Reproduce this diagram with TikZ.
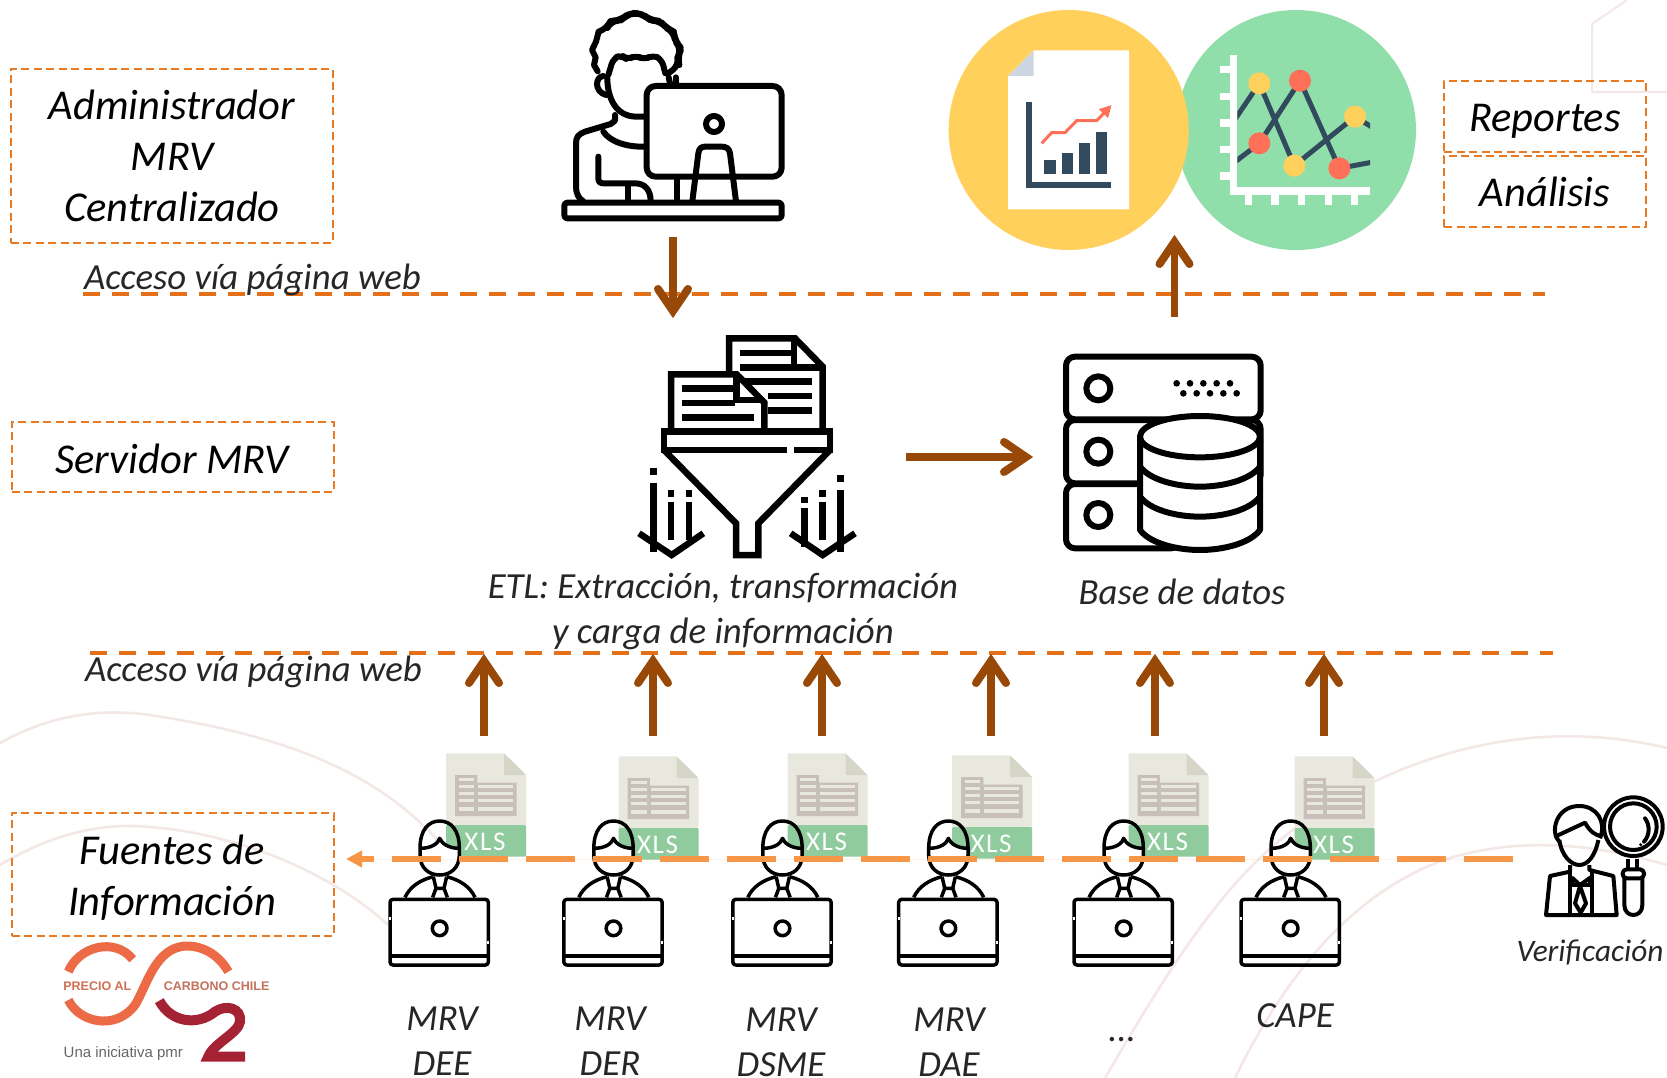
\documentclass[tikz,border=0pt]{standalone}
\usepackage{fontspec}
\setmainfont{Carlito}
\newfontfamily\logofont{Liberation Sans}
\usetikzlibrary{arrows.meta}
\definecolor{boxor}{HTML}{E97A22}
\definecolor{lineor}{HTML}{E4711A}
\definecolor{thickor}{HTML}{F79646}
\definecolor{brownarr}{HTML}{984807}
\definecolor{navy}{HTML}{324A5E}
\definecolor{ylw}{HTML}{FFD05B}
\definecolor{grn}{HTML}{90DFAA}
\definecolor{redd}{HTML}{FF7058}
\definecolor{faint}{HTML}{F3E8E5}
\definecolor{foldg}{HTML}{CDD6E0}
\definecolor{xlsbg}{HTML}{E8E8DF}
\definecolor{xlsfold}{HTML}{D5D5C8}
\definecolor{xlsgrid}{HTML}{C9BFBA}
\definecolor{xlsgrn}{HTML}{8FCB9C}
\definecolor{logoor}{HTML}{EC6A45}
\definecolor{logored}{HTML}{A52234}
\tikzset{
  dbox/.style={draw=boxor,line width=1.8pt,dash pattern=on 8pt off 4.5pt},
  bigtxt/.style={font=\fontsize{42.5}{51}\selectfont\itshape,align=center,text=black,inner sep=0pt},
  midtxt/.style={font=\fontsize{36.8}{45}\selectfont\itshape,align=center,text=black!85,inner sep=0pt},
  sep/.style={draw=lineor,line width=4pt,dash pattern=on 17pt off 12pt},
  barrow/.style={draw=brownarr,line width=7.5pt,shorten >=10pt},
  barbhead/.pic={
    \draw[brownarr,line width=8pt,line cap=round,line join=miter] (-29,-15) -- (-7,0) -- (-29,15);
  },
  bgcurve/.style={draw=faint,line width=2.6pt},
  icon/.style={draw=black,line width=6pt,line cap=round,line join=round},
  iconsq/.style={draw=black,line width=6.5pt,line cap=butt,line join=miter},
  zoomed/.style={x=.33333pt,y=-.33333pt},
  personlaptop/.pic={
    \begin{scope}[zoomed,draw=black,line width=3.5pt,line join=round]
      \fill[white] (150,325) .. controls (185,325) and (205,310) .. (209,295) .. controls (215,310) and (235,325) .. (268,325) -- (268,345) .. controls (268,385) and (240,405) .. (209,405) .. controls (178,405) and (150,385) .. (150,345) -- cycle;
      \draw (150,325) .. controls (150,270) and (175,243) .. (209,243) .. controls (243,243) and (268,270) .. (268,325) -- (268,345) .. controls (268,385) and (240,405) .. (209,405) .. controls (178,405) and (150,385) .. (150,345) -- cycle;
      \draw (150,325) .. controls (185,325) and (205,310) .. (209,295) .. controls (215,310) and (235,325) .. (268,325);
      \draw (105,472) .. controls (120,440) and (150,420) .. (190,410);
      \draw (315,472) .. controls (300,440) and (270,420) .. (230,410);
      \draw (190,410) -- (198,445) -- (222,445) -- (230,410);
      \draw (198,445) -- (188,472);
      \draw (222,445) -- (232,472);
      \draw[rounded corners=3pt] (60,478) rectangle (355,675);
      \draw (60,648) -- (355,648);
      \draw (209,565) circle (22);
      \draw[white,line width=2pt] (60,532) -- (60,540);
      \draw[white,line width=2pt] (355,602) -- (355,612);
    \end{scope}},
  xlsdoc/.pic={
    \begin{scope}[zoomed]
      \fill[xlsbg,rounded corners=1pt] (228,40) -- (402,40) -- (468,105) -- (468,255) -- (228,255) -- cycle;
      \fill[xlsfold] (402,40) -- (468,105) -- (402,105) -- cycle;
      \fill[xlsgrn,rounded corners=1pt] (228,255) -- (468,255) -- (468,350) -- (228,350) -- cycle;
      \fill[xlsgrid] (255,105) -- (322,105) -- (322,128) -- (440,128) -- (440,228) -- (255,228) -- cycle;
      \foreach \yy in {118,138,159,180,206}{
        \fill[xlsbg] (266,\yy-4) rectangle (312,\yy+6);
      }
      \foreach \yy in {138,159,180,206}{
        \fill[xlsbg] (325,\yy-4) rectangle (430,\yy+6);
      }
      \node[font=\fontsize{27}{27}\selectfont\addfontfeature{LetterSpace=6},text=white] at (345,305) {XLS};
    \end{scope}}
}
\begin{document}
\begin{tikzpicture}[x=1pt,y=-1pt]
\useasboundingbox (0,0) rectangle (1667,1078);
% faint background curves
\draw[bgcurve] (0,743) .. controls (50,715) and (100,708) .. (150,715) .. controls (280,735) and (380,770) .. (446,850);
\draw[bgcurve] (0,865) .. controls (50,835) and (100,822) .. (150,827) .. controls (250,835) and (340,880) .. (388,925);
\draw[bgcurve] (1105,1078) .. controls (1160,985) and (1220,880) .. (1300,825) .. controls (1400,755) and (1530,715) .. (1667,748);
\draw[bgcurve] (1235,1078) .. controls (1290,965) and (1360,890) .. (1444,860) .. controls (1520,835) and (1600,845) .. (1667,865);
\draw[bgcurve,line width=2pt] (1627,0) -- (1592,24) -- (1592,92) -- (1667,92);
% circles
\node[circle,fill=grn,minimum size=240pt,inner sep=0pt] (cgreen) at (1296,130) {};
\node[circle,fill=ylw,minimum size=240pt,inner sep=0pt] (cyellow) at (1068.7,130) {};
\begin{scope}[shift={(930,0)},zoomed]
  \fill[white] (234,228) -- (311,151) -- (597,151) -- (597,628) -- (234,628) -- cycle;
  \fill[foldg] (234,228) -- (311,151) -- (311,228) -- cycle;
  \fill[navy] (288,307) rectangle (305,565);
  \fill[navy] (288,547) rectangle (543,565);
  \fill[navy] (343,481) rectangle (378,522);
  \fill[navy] (395,460) rectangle (430,522);
  \fill[navy] (446,428) rectangle (481,522);
  \fill[navy] (497,395) rectangle (532,522);
  \draw[redd,line width=3pt,-{Triangle[length=12pt,width=12pt]}] (335,430) -- (365,398) -- (405,398) -- (440,362) -- (500,362) -- (545,315);
  % chart
  \begin{scope}
    \clip (922,150) rectangle (1320,562);
    \draw[navy,line width=5pt] (900,380) -- (988,250) -- (1093,497) -- (1275,350) -- (1340,390);
    \draw[navy,line width=5pt] (900,497) -- (988,430) -- (1110,242) -- (1228,505) -- (1340,484);
  \end{scope}
  \fill[white] (900,165) rectangle (922,585);
  \fill[white] (900,562) rectangle (1320,585);
  \foreach \yy in {198,278,358,438,517}{\fill[white] (870,\yy) rectangle (900,\yy+22);}
  \foreach \xx in {945,1024,1104,1184,1263}{\fill[white] (\xx,585) rectangle (\xx+22,615);}
  \foreach \dotx/\doty in {988/250,1093/497,1275/350}{\fill[ylw] (\dotx,\doty) circle (33);}
  \foreach \dotx/\doty in {988/430,1110/242,1228/505}{\fill[redd] (\dotx,\doty) circle (33);}
\end{scope}
% top person at computer
\begin{scope}[shift={(520,0)},zoomed]
  \draw[icon] (233,214) -- (222,195) -- (227,172) -- (216,150) -- (228,125) -- (236,95);
  \draw[icon,rounded corners=8pt] (236,95) -- (262,85) -- (272,62) -- (302,62) -- (320,45) -- (345,38) -- (372,45) -- (392,62) -- (420,62) -- (440,85) -- (462,95) -- (465,125) -- (485,145) -- (472,172) -- (478,195) -- (445,220);
  \draw[icon,rounded corners=6pt] (265,225) -- (280,175) -- (305,165) -- (322,180) -- (348,165) -- (372,180) -- (398,165) -- (425,178) -- (436,220);
  \draw[icon] (250,228) .. controls (225,230) and (222,275) .. (258,285);
  \draw[icon] (262,235) .. controls (262,290) and (285,350) .. (350,350) -- (378,350);
  \draw[icon] (446,232) -- (450,250);
  \draw[icon] (467,232) -- (467,250);
  \draw[icon] (285,345) -- (285,362) -- (272,372) -- (195,395) .. controls (175,402) and (168,412) .. (168,430) -- (168,560) .. controls (168,580) and (175,595) .. (190,604);
  \draw[icon] (250,395) .. controls (270,425) and (320,442) .. (378,440);
  \draw[icon] (235,470) -- (235,535) .. controls (235,545) and (240,550) .. (250,550) -- (345,550) .. controls (375,550) and (392,570) .. (392,604);
  \draw[icon] (325,552) -- (325,604);
  \draw[icon,rounded corners=9pt] (380,258) rectangle (785,530);
  \draw[icon] (582,372) circle (24);
  \draw[icon] (517,604) -- (535,460) .. controls (537,445) and (545,440) .. (555,440) -- (605,440) .. controls (618,440) and (628,445) .. (630,460) -- (648,604);
  \draw[icon] (470,532) -- (470,604);
  \draw[icon,rounded corners=3pt,fill=white] (133,608) rectangle (785,655);
\end{scope}
% ETL funnel
\begin{scope}[shift={(620,320)},zoomed]
  \draw[iconsq] (327,325) -- (327,55) -- (525,55) -- (608,140) -- (608,325);
  \draw[iconsq] (522,55) -- (522,142) -- (608,142);
  \foreach \xa/\ya/\xb in {360/99/512,360/142/522,365/185/575,445/228/575,445/272/575}{\draw[iconsq] (\xa,\ya) -- (\xb,\ya);}
  \draw[iconsq,fill=white] (153,335) -- (153,163) -- (350,163) -- (433,248) -- (433,335);
  \draw[iconsq] (350,163) -- (350,240) -- (433,240);
  \foreach \xa/\ya/\xb in {187/206/340,187/249/345,187/293/402}{\draw[iconsq] (\xa,\ya) -- (\xb,\ya);}
  \draw[iconsq] (132,390) -- (132,335) -- (630,335) -- (630,390);
  \draw[iconsq] (122,390) -- (500,390);
  \draw[iconsq] (522,390) -- (640,390);
  \draw[iconsq] (132,390) -- (348,610) -- (348,705) -- (415,705) -- (415,610) -- (630,390);
  \draw[iconsq] (57,640) -- (155,705) -- (250,640);
  \draw[iconsq] (100,445) -- (100,465);
  \draw[iconsq] (100,490) -- (100,695);
  \draw[iconsq] (153,510) -- (153,530);
  \draw[iconsq] (153,545) -- (153,660);
  \draw[iconsq] (207,510) -- (207,530);
  \draw[iconsq] (207,545) -- (207,660);
  \draw[iconsq] (512,640) -- (608,705) -- (705,640);
  \draw[iconsq] (554,530) -- (554,550);
  \draw[iconsq] (554,565) -- (554,680);
  \draw[iconsq] (607,510) -- (607,530);
  \draw[iconsq] (607,545) -- (607,660);
  \draw[iconsq] (661,465) -- (661,487);
  \draw[iconsq] (661,510) -- (661,695);
\end{scope}
% database
\begin{scope}[shift={(1040,340)},zoomed]
  \draw[icon,rounded corners=9pt] (78,50) rectangle (662,238);
  \draw[icon,rounded corners=9pt] (78,240) rectangle (662,430);
  \draw[icon,rounded corners=9pt] (78,432) rectangle (420,625);
  \draw[icon,fill=white] (300,290) -- (300,570) .. controls (330,610) and (410,630) .. (480,630) .. controls (550,630) and (630,610) .. (660,570) -- (660,290) -- cycle;
  \draw[icon,fill=white] (480,290) ellipse (180 and 62);
  \draw[icon] (300,380) .. controls (330,420) and (410,440) .. (480,440) .. controls (550,440) and (630,420) .. (660,380);
  \draw[icon] (300,470) .. controls (330,510) and (410,530) .. (480,530) .. controls (550,530) and (630,510) .. (660,470);
  \foreach \yy in {145,335,525}{\draw[icon] (175,\yy) circle (36);}
  \foreach \xx in {410,450,490,530,570}{\fill (\xx,130) circle (10);}
  \foreach \xx in {430,470,510,550,590}{\fill (\xx,160) circle (10);}
\end{scope}
% xls documents
\pic at (370,740) {xlsdoc};
\pic at (542.5,743) {xlsdoc};
\pic at (711.5,740) {xlsdoc};
\pic at (876,742) {xlsdoc};
\pic at (1052.5,740) {xlsdoc};
\pic at (1218.5,743) {xlsdoc};
% persons with laptops
\pic at (370,740) {personlaptop};
\pic at (543.8,740) {personlaptop};
\pic at (712.8,740) {personlaptop};
\pic at (878.7,740) {personlaptop};
\pic at (1054,740) {personlaptop};
\pic at (1221,740) {personlaptop};
% verifier
\begin{scope}[shift={(1500,770)},zoomed,draw=black,line width=4pt,line join=round]
  \draw (178,215) .. controls (150,190) and (165,108) .. (238,108) .. controls (290,108) and (320,155) .. (300,205);
  \draw (165,200) -- (255,158) .. controls (270,185) and (285,195) .. (302,198);
  \draw (178,210) .. controls (185,260) and (215,285) .. (238,285) .. controls (262,285) and (285,260) .. (295,210);
  \draw (210,285) -- (210,305) -- (150,318) -- (138,435) -- (350,435) -- (340,318) -- (268,300) -- (268,285);
  \draw (210,305) -- (210,435);
  \draw (275,305) -- (275,435);
  \draw (215,322) -- (240,345) -- (272,322);
  \draw (215,322) -- (215,345) -- (240,345) -- (270,345) -- (270,322);
  \draw (240,348) -- (225,400) -- (242,428) -- (258,400) -- cycle;
  \draw (400,170) circle (88);
  \draw (400,170) circle (70);
  \draw (385,268) -- (385,298);
  \draw (410,268) -- (410,298);
  \draw[rounded corners=4pt] (368,298) rectangle (432,325);
  \draw (373,325) -- (373,405) .. controls (373,445) and (427,445) .. (427,405) -- (427,325);
  \draw[line cap=round] (435,145) .. controls (450,165) and (450,195) .. (432,215);
  \fill (422,224) circle (5);
\end{scope}
% logo
\begin{scope}[shift={(40,930)},zoomed]
  \draw[logoor,line width=9pt] (85,125) .. controls (115,50) and (225,20) .. (278,88);
  \draw[logoor,line width=9pt] (85,210) .. controls (115,275) and (225,305) .. (285,225) .. controls (320,170) and (345,50) .. (440,48) .. controls (495,48) and (540,80) .. (565,125);
  \draw[logored,line width=10pt] (358,212) .. controls (390,275) and (470,290) .. (525,245) .. controls (560,222) and (605,235) .. (600,275) .. controls (595,310) and (520,340) .. (505,380) -- (615,380);
  \node[anchor=center,font=\logofont\bfseries\fontsize{12.5}{12.5}\selectfont,text=logoor!75!gray] (logoa) at (172,168) {PRECIO AL};
  \node[anchor=center,font=\logofont\bfseries\fontsize{12.5}{12.5}\selectfont,text=logoor!60!gray] (logob) at (530,168) {CARBONO CHILE};
  \node[anchor=center,font=\logofont\fontsize{15}{15}\selectfont,text=black!60] (logoc) at (250,370) {Una iniciativa pmr};
\end{scope}
% label boxes
\node[dbox,minimum width=322.4pt,minimum height=174pt,inner sep=0pt] (admin) at (171.8,156) {};
\node[dbox,minimum width=322.4pt,minimum height=70pt,inner sep=0pt] (servidor) at (172.8,457) {};
\node[dbox,minimum width=322.4pt,minimum height=123pt,inner sep=0pt] (fuentes) at (172.8,874.5) {};
\node[dbox,minimum width=202pt,minimum height=71pt,inner sep=0pt] (reportes) at (1545,116.5) {};
\node[dbox,minimum width=202pt,minimum height=71pt,inner sep=0pt] (analisis) at (1545,191.5) {};
\node[bigtxt] (admint) at (172,156) {Administrador\\MRV\\Centralizado};
\node[bigtxt] (servt) at (172,459) {Servidor MRV};
\node[bigtxt] (fuentt) at (172,878) {Fuentes de\\Información};
\node[bigtxt] (rept) at (1545,121) {Reportes};
\node[bigtxt] (anat) at (1545,192) {Análisis};
% separators
\coordinate (s1a) at (83,293.5);
\coordinate (s1b) at (1545,293.5);
\coordinate (s2a) at (90,653);
\coordinate (s2b) at (1553,653);
\draw[sep] (s1a) -- (s1b);
\draw[sep] (s2a) -- (s2b);
\node[midtxt] (web1) at (252.5,280) {Acceso vía página web};
\node[midtxt] (web2) at (253.5,672) {Acceso vía página web};
% thick verification line
\coordinate (va) at (1513,859);
\coordinate (vb) at (346,859);
\draw[draw=thickor,fill=thickor,line width=5.5pt,dash pattern=on 49pt off 18pt,-{Triangle[length=16pt,width=16pt]}] (va) -- (vb);
% arrows
\coordinate (t1) at (673,237);
\coordinate (t2) at (673,318);
\draw[barrow] (t1) -- (t2);
\path (t1) -- (t2) pic[pos=1,sloped,allow upside down] {barbhead};
\coordinate (r1) at (1174.5,317);
\coordinate (r2) at (1174.5,235);
\draw[barrow] (r1) -- (r2);
\path (r1) -- (r2) pic[pos=1,sloped,allow upside down] {barbhead};
\coordinate (h1) at (906,457);
\coordinate (h2) at (1033,457);
\draw[barrow] (h1) -- (h2);
\path (h1) -- (h2) pic[pos=1,sloped,allow upside down] {barbhead};
\foreach \n/\xx in {u1/484,u2/653,u3/822,u4/991,u5/1155,u6/1324}{
  \coordinate (\n a) at (\xx,736);
  \coordinate (\n b) at (\xx,654);
  \draw[barrow] (\n a) -- (\n b);
  \path (\n a) -- (\n b) pic[pos=1,sloped,allow upside down] {barbhead};
}
% other labels
\node[midtxt] (etl) at (723,611) {ETL: Extracción, transformación\\y carga de información};
\node[midtxt] (base) at (1182,592) {Base de datos};
\node[midtxt] (m1) at (442,1041) {MRV\\DEE};
\node[midtxt] (m2) at (610,1041) {MRV\\DER};
\node[midtxt] (m3) at (781,1042) {MRV\\DSME};
\node[midtxt] (m4) at (949,1042) {MRV\\DAE};
\node[midtxt] (m5) at (1122,1040) {...};
\node[midtxt] (m6) at (1295,1016) {CAPE};
\node[midtxt,font=\fontsize{31.3}{35}\selectfont\itshape] (verif) at (1590,953) {Verificación};
\end{tikzpicture}
\end{document}
